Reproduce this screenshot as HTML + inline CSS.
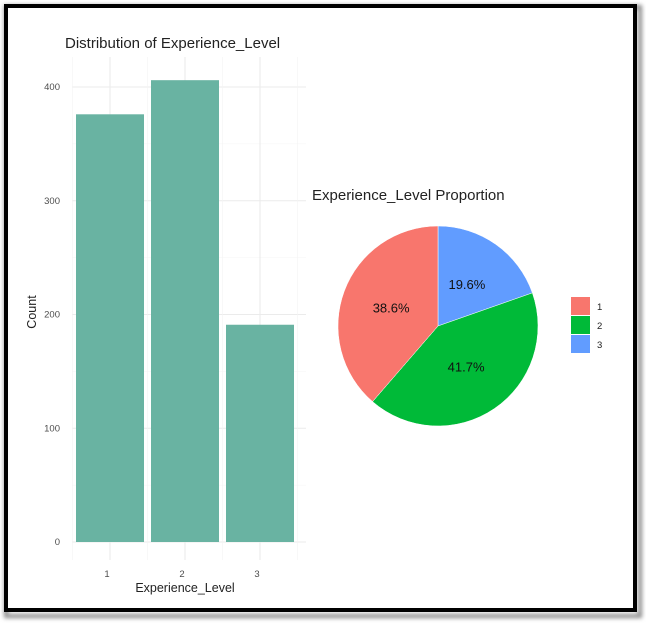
<!DOCTYPE html>
<html><head><meta charset="utf-8"><style>
body{margin:0;background:#fff;}
svg{display:block;font-family:"Liberation Sans",sans-serif;}
</style></head><body>
<svg width="646" height="624" viewBox="0 0 646 624">
<defs><filter id="sh" x="-5%" y="-5%" width="110%" height="110%"><feGaussianBlur stdDeviation="2"/></filter></defs>
<rect x="6" y="7" width="634" height="609" fill="none" stroke="#888" stroke-width="4" filter="url(#sh)"/>
<rect x="6" y="6" width="629" height="604" fill="#fff" stroke="#000" stroke-width="4"/>
<g id="bar"></g>
<g id="pie"></g>
</svg>
<script>
const categories=["1","2","3"];
const counts=[376,406,191];
const yTicks=[0,100,200,300,400];
const pieLabels=["1","2","3"];
const pieColors=["#F8766D","#00BA38","#619CFF"];
const NS="http://www.w3.org/2000/svg";
function mk(p,t,a,txt){const e=document.createElementNS(NS,t);for(const k in a)e.setAttribute(k,a[k]);if(txt!==undefined)e.textContent=txt;p.appendChild(e);return e;}
const bar=document.getElementById('bar');
const y0=542,pxPer=455/400;
const Y=v=>y0-v*pxPer;
const X=i=>110+i*75;
const panelTop=57,panelLeft=72,panelRight=298;
for(let v=0;v<=450;v+=50){if(Y(v)<panelTop)break;const g=mk(bar,'line',{x1:panelLeft,x2:panelRight+8,y1:Y(v),y2:Y(v),stroke:v%100===0?'#ebebeb':'#f4f4f4','stroke-width':v%100===0?1.1:0.6});

}
for(let i=0;i<categories.length;i++){const g=mk(bar,'line',{x1:X(i),x2:X(i),y1:panelTop,y2:560,stroke:'#ebebeb','stroke-width':1.1});

}
for(let i=0;i<=categories.length;i++){const g=mk(bar,'line',{x1:X(i)-37.5,x2:X(i)-37.5,y1:panelTop,y2:560,stroke:'#f4f4f4','stroke-width':0.6});

}
for(let i=0;i<counts.length;i++){
const r=mk(bar,'rect',{x:X(i)-34,y:Y(counts[i]),width:68,height:y0-Y(counts[i]),fill:'#69b3a2'});


const t=mk(bar,'text',{x:X(i)-3,y:577,'font-size':9.5,fill:'#4d4d4d','text-anchor':'middle'},categories[i]);

}
for(const v of yTicks){const t=mk(bar,'text',{x:60,y:Y(v)+3,'font-size':9.5,fill:'#4d4d4d','text-anchor':'end'},v);

}
let e=mk(bar,'text',{x:65,y:48,'font-size':15,fill:'#222'},'Distribution of Experience_Level');

e=mk(bar,'text',{x:185,y:592,'font-size':12.5,fill:'#222','text-anchor':'middle'},'Experience_Level');

e=mk(bar,'text',{x:36,y:312,'font-size':12.5,fill:'#222','text-anchor':'middle',transform:'rotate(-90 36 312)'},'Count');

const pie=document.getElementById('pie');
const cx=438,cy=326,R=100;
const total=counts.reduce((a,b)=>a+b,0);
let ang=0;
const order=[2,1,0];
for(const i of order){
const frac=counts[i]/total,a0=ang,a1=ang+frac*2*Math.PI;ang=a1;
const P=a=>[cx+R*Math.sin(a),cy-R*Math.cos(a)];
const [x0,yy0]=P(a0),[x1,yy1]=P(a1);
const p=mk(pie,'path',{d:`M${cx},${cy}L${x0},${yy0}A${R},${R} 0 ${frac>0.5?1:0} 1 ${x1},${yy1}Z`,fill:pieColors[i],stroke:'#fff','stroke-width':0.5});


const m=(a0+a1)/2;
const t=mk(pie,'text',{x:cx+R/2*Math.sin(m),y:cy-R/2*Math.cos(m)+4,'font-size':13,fill:'#111','text-anchor':'middle'},(frac*100).toFixed(1)+'%');

}
e=mk(pie,'text',{x:312,y:200,'font-size':15,fill:'#222'},'Experience_Level Proportion');

for(let i=0;i<pieLabels.length;i++){
const r=mk(pie,'rect',{x:571,y:297+i*19,width:19,height:18,fill:pieColors[i]});


const t=mk(pie,'text',{x:597,y:310+i*19,'font-size':9.5,fill:'#222'},pieLabels[i]);

}
</script>
</body></html>
